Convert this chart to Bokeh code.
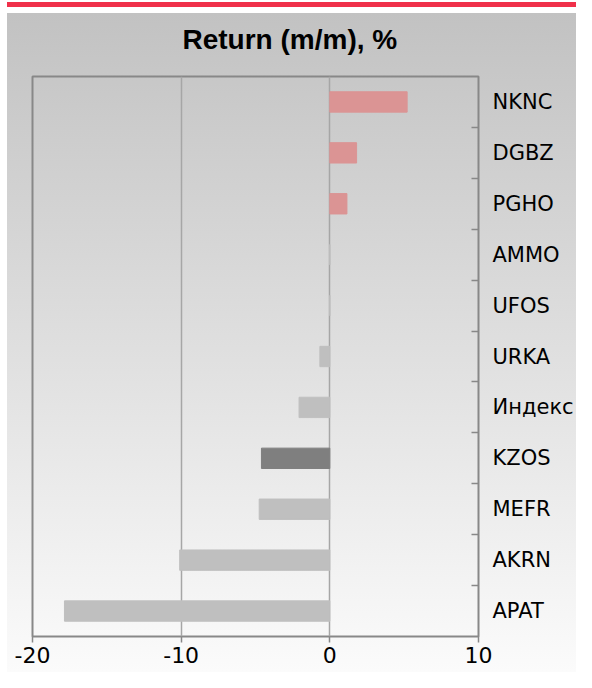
from bokeh.plotting import figure
from bokeh.models import FixedTicker, Title, ColumnDataSource
from bokeh.embed import file_html
from bokeh.resources import INLINE

categories = ["NKNC", "DGBZ", "PGHO", "AMMO", "UFOS", "URKA", "Индекс", "KZOS", "MEFR", "AKRN", "APAT"]
returns = [5.2, 1.8, 1.15, 0.0, 0.0, -0.67, -2.07, -4.6, -4.75, -10.1, -17.85]
x_ticks = [-20, -10, 0, 10]
x_tick_labels = ["-20", "-10", "0", "10"]
highlight = "KZOS"

n = len(categories)
ypos = [n - 1 - i for i in range(n)]
colors = []
for c, v in zip(categories, returns):
    if c == highlight:
        colors.append("#7f7f7f")
    elif v > 0:
        colors.append("#db9494")
    else:
        colors.append("#bfbfbf")

src = ColumnDataSource(dict(y=ypos, right=returns, color=colors, name=categories))

p = figure(width=576, height=672, output_backend="svg", toolbar_location=None,
           x_range=(-20, 10), y_range=(-0.5, n - 0.5),
           y_axis_location="right",
           min_border_left=32, min_border_right=95, min_border_top=76, min_border_bottom=36)

p.styles = {"background": ("linear-gradient(to right, #ffffff 0px, #ffffff 7px, rgba(255,255,255,0) 7px), "
                           "linear-gradient(to bottom, #ffffff 0px, #ffffff 2px, #f0304a 2px, #f0304a 7px, "
                           "#ffffff 7px, #ffffff 13px, #c2c2c2 13px, #fbfbfb 100%)")}
p.border_fill_color = None
p.background_fill_color = None
p.outline_line_color = "#888888"
p.outline_line_width = 2

p.hbar(y="y", left=0, right="right", height=0.40, color="color", source=src)

# grid
p.ygrid.grid_line_color = None
p.xgrid.ticker = FixedTicker(ticks=x_ticks)
p.xgrid.grid_line_color = "#a6a6a6"
p.xgrid.grid_line_width = 1.5

# x axis
xa = p.xaxis[0]
xa.ticker = FixedTicker(ticks=x_ticks)
xa.major_label_overrides = {t: s for t, s in zip(x_ticks, x_tick_labels)}
xa.axis_line_color = None
xa.major_tick_line_color = "#888888"
xa.major_tick_line_width = 1.5
xa.major_tick_out = 6
xa.major_tick_in = 0
xa.minor_tick_line_color = None
xa.major_label_standoff = 4
xa.major_label_text_font = "DejaVu Sans"
xa.major_label_text_font_size = "22px"
xa.major_label_text_color = "#000000"

# y axis
ya = p.yaxis[0]
ya.ticker = FixedTicker(ticks=ypos, minor_ticks=[k + 0.5 for k in range(n - 1)])
ya.major_label_overrides = {y: c for y, c in zip(ypos, categories)}
ya.axis_line_color = None
ya.major_tick_line_color = None
ya.major_tick_out = 0
ya.major_tick_in = 0
ya.minor_tick_line_color = "#888888"
ya.minor_tick_line_width = 1.5
ya.minor_tick_in = 7
ya.minor_tick_out = 0
ya.major_label_standoff = 14
ya.major_label_text_font = "DejaVu Sans"
ya.major_label_text_font_size = "21px"
ya.major_label_text_color = "#000000"

t = Title(text="Return (m/m), %", align="left", offset=150, standoff=43,
          text_font="Liberation Sans", text_font_style="bold", text_font_size="28px",
          text_color="#000000")
p.add_layout(t, "above")

open("out.html", "w").write(file_html(p, INLINE))
